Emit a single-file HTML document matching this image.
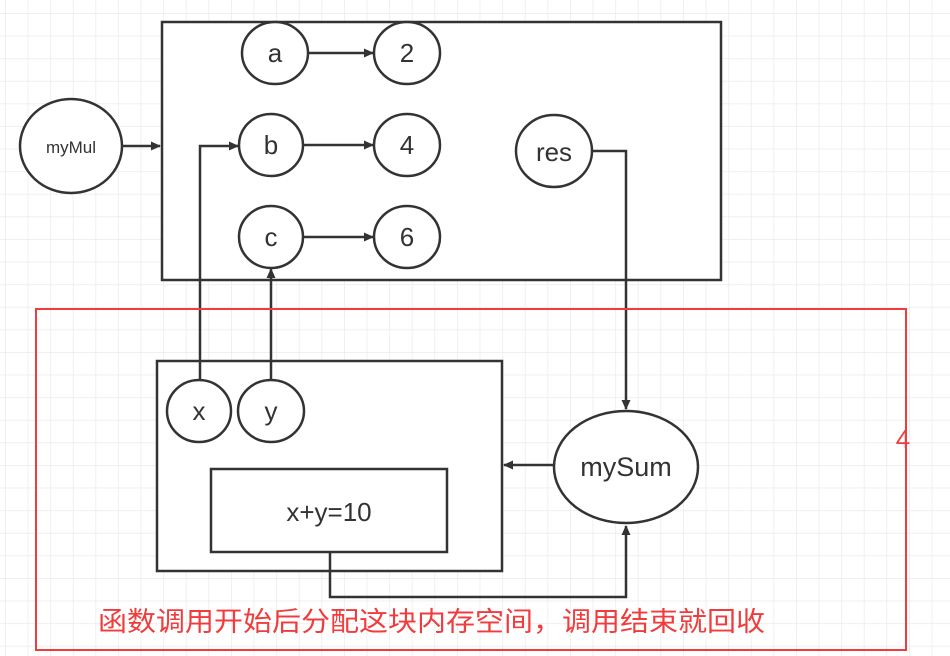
<!DOCTYPE html>
<html><head><meta charset="utf-8"><style>
html,body{margin:0;padding:0;width:950px;height:656px;overflow:hidden;background:#fff}
</style></head><body>
<svg width="950" height="656" viewBox="0 0 950 656" xmlns="http://www.w3.org/2000/svg" font-family="'Liberation Sans','Noto Sans CJK SC',sans-serif">
<defs>
<pattern id="g" x="5" y="13" width="22.6" height="22.6" patternUnits="userSpaceOnUse">
<path d="M0 0H22.6M0 0V22.6" stroke="#ebebeb" stroke-width="1.5" fill="none"/>
</pattern>
<marker id="ar" markerWidth="10" markerHeight="10" refX="9" refY="5" orient="auto" markerUnits="userSpaceOnUse" viewBox="0 0 10 10">
<path d="M0 0.5L10 5L0 9.5Z" fill="#333"/>
</marker>
</defs>
<rect width="950" height="656" fill="url(#g)"/>
<g stroke="#333" stroke-width="2.5" fill="#fff">
<rect x="162" y="22" width="559" height="258"/>
<rect x="157" y="361" width="345" height="210"/>
<rect x="211" y="469" width="236" height="83"/>
<ellipse cx="71" cy="146" rx="51" ry="47"/>
<ellipse cx="275" cy="53" rx="33" ry="31"/>
<ellipse cx="407" cy="53" rx="33" ry="31"/>
<ellipse cx="271" cy="145" rx="32" ry="31"/>
<ellipse cx="407" cy="145" rx="33" ry="31"/>
<ellipse cx="271" cy="237" rx="32" ry="31"/>
<ellipse cx="407" cy="237" rx="33" ry="31"/>
<ellipse cx="554" cy="151" rx="38" ry="36"/>
<ellipse cx="199" cy="411" rx="32" ry="31"/>
<ellipse cx="271" cy="411" rx="33" ry="31"/>
<ellipse cx="626" cy="467" rx="72" ry="56"/>
</g>
<g stroke="#333" stroke-width="2.5" fill="none">
<path d="M122 146H160" marker-end="url(#ar)"/>
<path d="M308 53H373" marker-end="url(#ar)"/>
<path d="M303 145H373" marker-end="url(#ar)"/>
<path d="M303 237H373" marker-end="url(#ar)"/>
<path d="M200 380V146H238" marker-end="url(#ar)"/>
<path d="M271 380V269" marker-end="url(#ar)"/>
<path d="M592 151H626V409" marker-end="url(#ar)"/>
<path d="M554 465H504" marker-end="url(#ar)"/>
<path d="M330 552V597H626V526" marker-end="url(#ar)"/>
</g>
<rect x="36" y="309" width="870" height="341" fill="none" stroke="#f03c3c" stroke-width="2"/>
<g fill="#333" text-anchor="middle" font-size="26">
<text x="71" y="153" font-size="17">myMul</text>
<text x="275" y="62">a</text>
<text x="407" y="62">2</text>
<text x="271" y="154">b</text>
<text x="407" y="154">4</text>
<text x="271" y="246">c</text>
<text x="407" y="246">6</text>
<text x="554" y="161">res</text>
<text x="199" y="420">x</text>
<text x="271" y="420">y</text>
<text x="626" y="476" font-size="27">mySum</text>
<text x="329" y="521" font-size="26">x+y=10</text>
</g>
<text x="903" y="448" fill="#f03c3c" font-size="26" text-anchor="middle">4</text>
<text x="98" y="631" fill="#f03c3c" font-size="27" textLength="667" lengthAdjust="spacingAndGlyphs">函数调用开始后分配这块内存空间，调用结束就回收</text>
</svg>
</body></html>
